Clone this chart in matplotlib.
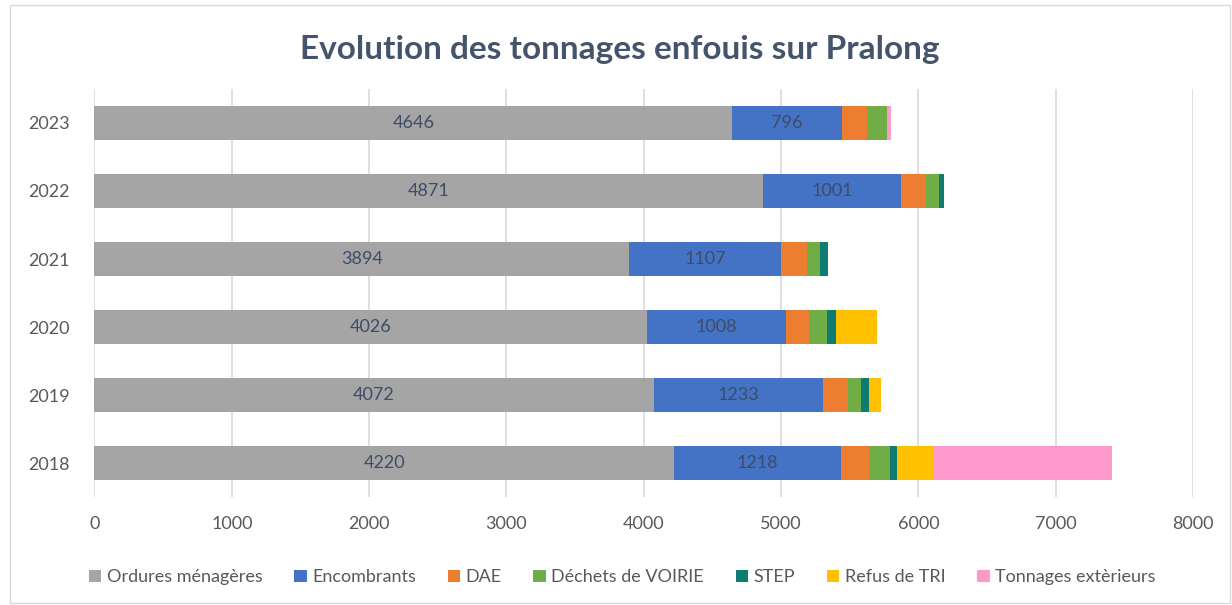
import matplotlib.pyplot as plt
from matplotlib.patches import Rectangle
import numpy as np

years = ['2018', '2019', '2020', '2021', '2022', '2023']
ordures = [4220, 4072, 4026, 3894, 4871, 4646]
encombrants = [1218, 1233, 1008, 1107, 1001, 796]
dae = [203, 181, 172, 191, 180, 182]
voirie = [153, 97, 129, 92, 97, 148]
step = [53, 56, 66, 58, 34, 0]
refus_tri = [262, 89, 296, 0, 0, 0]
exterieurs = [1300, 0, 0, 0, 0, 27]

series = [
    ('Ordures ménagères', ordures, '#A5A5A5'),
    ('Encombrants', encombrants, '#4472C4'),
    ('DAE', dae, '#ED7D31'),
    ('Déchets de VOIRIE', voirie, '#70AD47'),
    ('STEP', step, '#0E7C72'),
    ('Refus de TRI', refus_tri, '#FFC000'),
    ('Tonnages extèrieurs', exterieurs, '#FF99CC'),
]
labelled = ['Ordures ménagères', 'Encombrants']

plt.rcParams['font.family'] = ['Lato', 'DejaVu Sans']

fig = plt.figure(figsize=(12.32, 6.05), dpi=100)
ax = fig.add_axes([0.0767, 0.1785, 0.8917, 0.6744])

y = np.arange(len(years))
left = np.zeros(len(years))
for name, vals, color in series:
    vals = np.array(vals, dtype=float)
    ax.barh(y, vals, left=left, height=0.51, color=color, label=name, zorder=3)
    if name in labelled:
        for yi, l, v in zip(y, left, vals):
            ax.text(l + v / 2, yi, f'{int(v)}', ha='center', va='center',
                    fontsize=13, color='#3E4C69', zorder=4)
    left += vals

ax.set_xlim(0, 8000)
ax.set_ylim(-0.5, 5.5)
ax.set_xticks(range(0, 8001, 1000))
ax.set_yticks(y)
ax.set_yticklabels(years)
ax.tick_params(axis='both', length=0, labelsize=13, colors='#595959')
ax.tick_params(axis='x', pad=14)
ax.tick_params(axis='y', pad=18)
ax.grid(axis='x', color='#D9D9D9', linewidth=1.2, zorder=0)
for s in ax.spines.values():
    s.set_visible(False)

fig.text(0.503, 0.918, 'Evolution des tonnages enfouis sur Pralong', ha='center', va='center',
         fontsize=24, fontweight='bold', color='#44546A')

fig.legend(loc='center', bbox_to_anchor=(0.505, 0.046), ncol=7, frameon=False,
           fontsize=13, handlelength=0.7, handleheight=0.7, handletextpad=0.3,
           columnspacing=1.75, labelcolor='#595959')

fig.patches.append(Rectangle((10 / 1232, 2 / 605), 1220 / 1232, 598 / 605,
                             transform=fig.transFigure, fill=False,
                             edgecolor='#D9D9D9', linewidth=1))

fig.savefig('out.png', dpi=100)
